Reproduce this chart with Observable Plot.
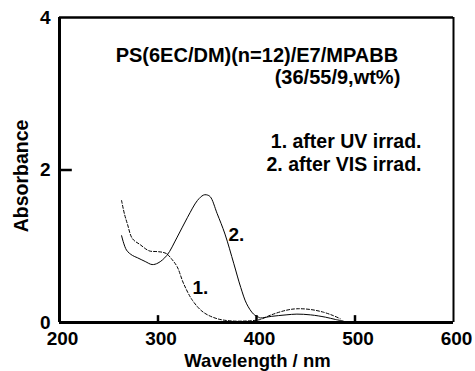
<!DOCTYPE html>
<html>
<head>
<meta charset="utf-8">
<script src="https://cdn.jsdelivr.net/npm/d3@7"></script>
<script src="https://cdn.jsdelivr.net/npm/@observablehq/plot@0.6"></script>
<style>
  html, body { margin: 0; padding: 0; background: #fff; }
  #chart svg { display: block; }
</style>
</head>
<body>
<div id="chart"></div>
<script>
// Curve 1: after UV irradiation (dashed)
const uvWavelength = [263, 266, 269, 274, 282, 291, 299, 305, 309, 314, 319.5, 326, 335, 346, 360, 375, 390, 400, 404, 415, 430, 441, 455, 468, 478, 485];
const uvAbsorbance = [1.60, 1.42, 1.29, 1.10, 1.02, 0.94, 0.93, 0.92, 0.90, 0.83, 0.73, 0.51, 0.29, 0.135, 0.05, 0.02, 0.02, 0.03, 0.04, 0.10, 0.16, 0.18, 0.17, 0.135, 0.09, 0.05];

// Curve 2: after VIS irradiation (solid)
const visWavelength = [263, 268, 274, 279, 287, 294, 300, 309, 319.5, 330, 340, 346, 349, 353, 360, 368, 377, 384, 390, 397, 402, 404, 415, 430, 441, 455, 470, 480, 488];
const visAbsorbance = [1.14, 0.95, 0.88, 0.85, 0.80, 0.76, 0.78, 0.88, 1.12, 1.38, 1.60, 1.67, 1.675, 1.65, 1.43, 1.16, 0.77, 0.46, 0.245, 0.11, 0.07, 0.06, 0.08, 0.10, 0.11, 0.10, 0.07, 0.04, 0.02];

const xTicks = [200, 300, 400, 500, 600];
const xInnerTicks = [300, 400, 500];
const yTicks = [0, 2, 4];
const yInnerTicks = [2];

const curveLabels = ["1.", "2."];
const curveLabelX = [335, 371.5];
const curveLabelY = [0.38, 1.075];

const titleLines = ["PS(6EC/DM)(n=12)/E7/MPABB", "(36/55/9,wt%)"];
const legendLines = ["1. after UV irrad.", "2. after VIS irrad."];

const uv = uvWavelength.map((x, i) => ({x, y: uvAbsorbance[i]}));
const vis = visWavelength.map((x, i) => ({x, y: visAbsorbance[i]}));
const labels = curveLabels.map((t, i) => ({t, x: curveLabelX[i], y: curveLabelY[i]}));

const font = "'Liberation Sans', Arial, Helvetica, sans-serif";

const chart = Plot.plot({
  width: 475,
  height: 371,
  marginLeft: 59,
  marginRight: 22,
  marginTop: 17,
  marginBottom: 49,
  style: {fontFamily: font, fontWeight: "bold", background: "#fff", color: "#000", overflow: "visible"},
  x: {domain: [200, 600], axis: null},
  y: {domain: [0, 4], axis: null},
  marks: [
    // curves
    Plot.line(uv, {x: "x", y: "y", stroke: "#000", strokeWidth: 1, strokeDasharray: "3,2", curve: "catmull-rom"}),
    Plot.line(vis, {x: "x", y: "y", stroke: "#000", strokeWidth: 1, curve: "catmull-rom"}),
    // inner ticks
    Plot.ruleX(xInnerTicks, {x: d => d, y1: 0, y2: 0.09, stroke: "#000", strokeWidth: 2.5}),
    Plot.ruleY(yInnerTicks, {y: d => d, x1: 200, x2: 213, stroke: "#000", strokeWidth: 2.5}),
    // frame
    Plot.ruleX([200], {stroke: "#000", strokeWidth: 3}),
    Plot.ruleX([600], {stroke: "#000", strokeWidth: 2}),
    Plot.ruleY([0], {stroke: "#000", strokeWidth: 3}),
    Plot.ruleY([4], {stroke: "#000", strokeWidth: 2.5}),
    // tick labels
    Plot.text(xTicks, {x: d => d, y: 0, text: d => String(d), dy: 16, dx: 3, fontSize: 19, lineAnchor: "middle"}),
    Plot.text(yTicks, {x: 200, y: d => d, text: d => String(d), dx: -9, dy: 0, textAnchor: "end", fontSize: 19, lineAnchor: "middle"}),
    // axis titles
    Plot.text(["Absorbance"], {frameAnchor: "left", textAnchor: "middle", dx: -38, dy: 6, rotate: -90, fontSize: 19.5, lineAnchor: "middle"}),
    Plot.text(["Wavelength / nm"], {frameAnchor: "bottom", textAnchor: "middle", dx: 1, dy: 38.5, fontSize: 18.5, lineAnchor: "middle"}),
    // curve labels
    Plot.text(labels, {x: "x", y: "y", text: "t", textAnchor: "start", lineAnchor: "bottom", fontSize: 19}),
    // title annotation
    Plot.text([titleLines[0]], {x: 257, y: 3.50, textAnchor: "start", lineAnchor: "middle", fontSize: 20}),
    Plot.text([titleLines[1]], {x: 546, y: 3.21, textAnchor: "end", lineAnchor: "middle", fontSize: 20}),
    // legend annotation
    Plot.text([legendLines[0]], {x: 567.5, y: 2.37, textAnchor: "end", lineAnchor: "middle", fontSize: 19.5}),
    Plot.text([legendLines[1]], {x: 567.5, y: 2.07, textAnchor: "end", lineAnchor: "middle", fontSize: 19.5})
  ]
});

document.getElementById("chart").appendChild(chart);
</script>
</body>
</html>
